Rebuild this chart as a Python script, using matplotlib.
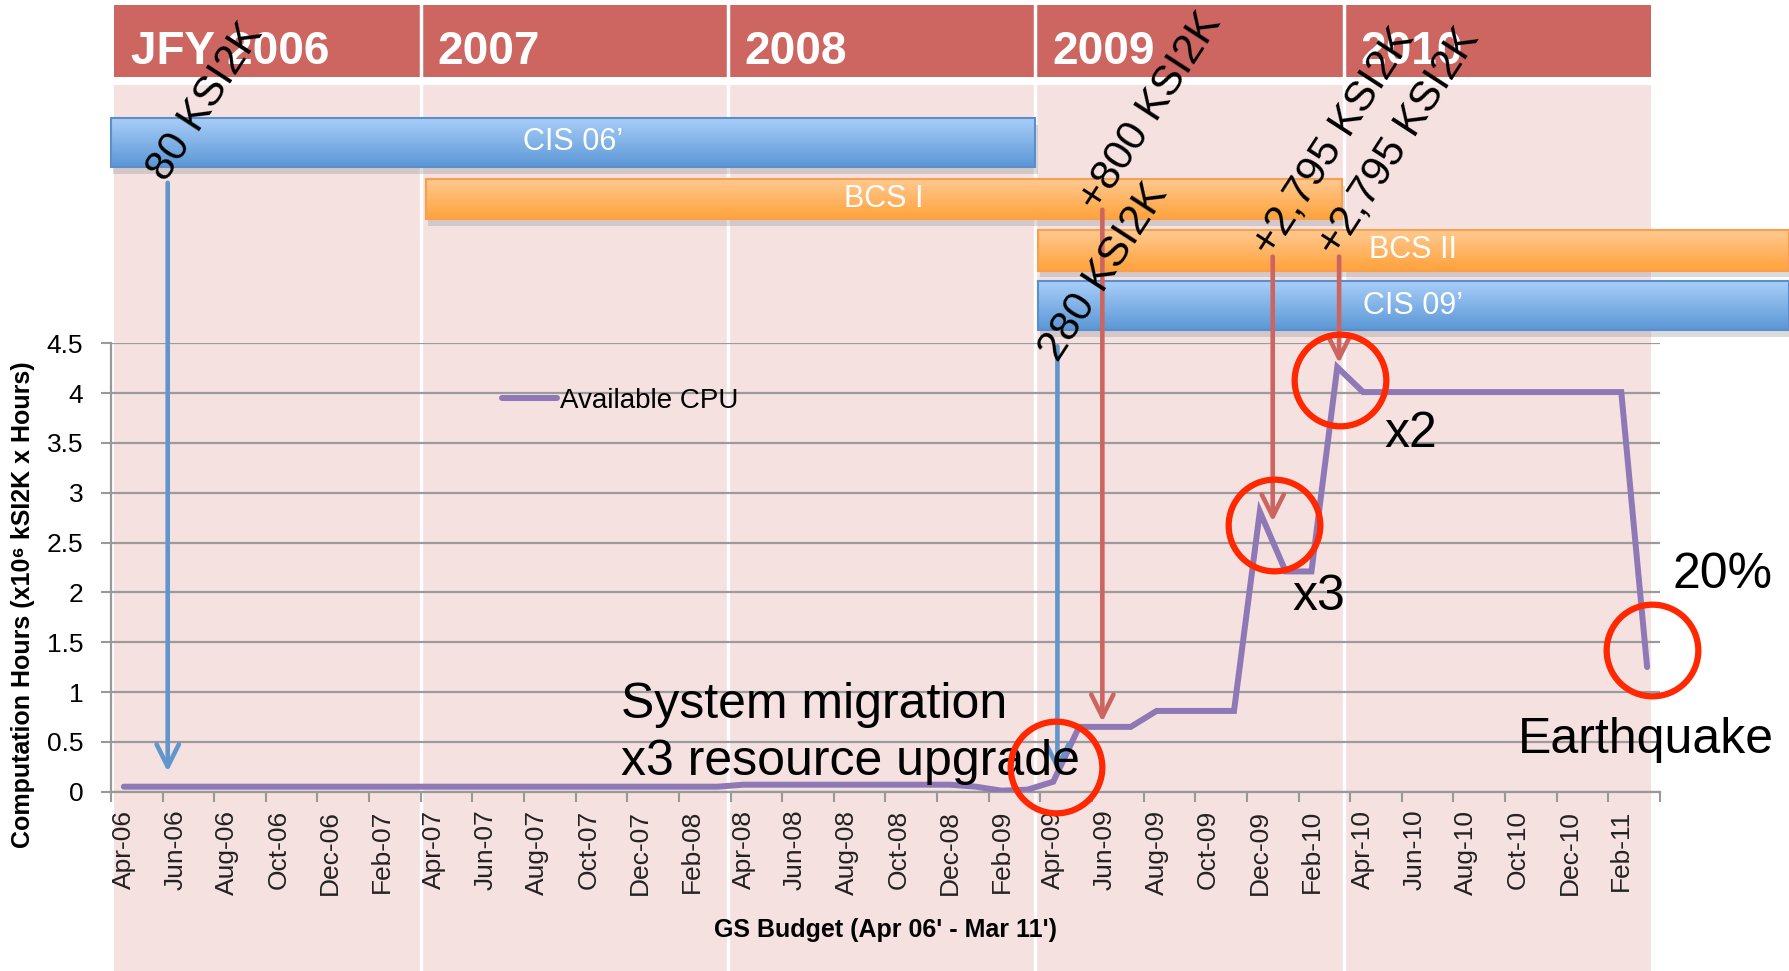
import numpy as np
import matplotlib.pyplot as plt
from matplotlib.patches import Rectangle
from matplotlib.colors import LinearSegmentedColormap

plt.rcParams['font.family'] = ['Liberation Sans', 'DejaVu Sans']

# monthly available CPU, Apr-06 .. Mar-11 (x10^6 kSI2K x hours)
cpu = [0.05, 0.05, 0.05, 0.05, 0.05, 0.05, 0.05, 0.05, 0.05, 0.05, 0.05, 0.05,
       0.05, 0.05, 0.05, 0.05, 0.05, 0.05, 0.05, 0.05, 0.05, 0.05, 0.05, 0.05,
       0.07, 0.07, 0.07, 0.07, 0.07, 0.07, 0.07, 0.07, 0.07, 0.05, 0.01, 0.02,
       0.10, 0.65, 0.65, 0.65, 0.81, 0.81, 0.81, 0.81, 2.81, 2.21, 2.21, 4.26,
       4.01, 4.01, 4.01, 4.01, 4.01, 4.01, 4.01, 4.01, 4.01, 4.01, 4.01, 1.25]

tick_labels = ['Apr-06', 'Jun-06', 'Aug-06', 'Oct-06', 'Dec-06', 'Feb-07',
               'Apr-07', 'Jun-07', 'Aug-07', 'Oct-07', 'Dec-07', 'Feb-08',
               'Apr-08', 'Jun-08', 'Aug-08', 'Oct-08', 'Dec-08', 'Feb-09',
               'Apr-09', 'Jun-09', 'Aug-09', 'Oct-09', 'Dec-09', 'Feb-10',
               'Apr-10', 'Jun-10', 'Aug-10', 'Oct-10', 'Dec-10', 'Feb-11']
y_labels = ['0', '0.5', '1', '1.5', '2', '2.5', '3', '3.5', '4', '4.5']

# fiscal years; header cells are drawn a touch narrower than the axis months
years = ['JFY 2006', '2007', '2008', '2009', '2010']
year_edges = [0.12, 12.0, 23.9, 35.8, 47.75, 59.65]

# systems (start / end month)
sys_names = ['CIS 06\u2019', 'BCS I', 'BCS II', 'CIS 09\u2019']
sys_start = [0, 12.2, 35.9, 35.9]
sys_end = [35.8, 47.7, 65, 65]
sys_kind = ['cis', 'bcs', 'bcs', 'cis']
sys_row = [(6.27, 6.76), (5.75, 6.15), (5.23, 5.64), (4.63, 5.12)]

# upgrade arrows
arr_x = [2.2, 36.66, 38.4, 45.0, 47.57]
arr_top = [6.11, 4.47, 5.84, 5.37, 5.37]
arr_tip = [0.2, 0.2, 0.70, 2.71, 4.30]
arr_kind = ['cis', 'cis', 'bcs', 'bcs', 'bcs']
arr_text = ['80 KSI2K', '280 KSI2K', '+800 KSI2K', '+2,795 KSI2K', '+2,795 KSI2K']
txt_x = [2.13, 36.7, 38.24, 44.94, 47.46]
txt_y = [6.11, 4.30, 5.81, 5.36, 5.36]

# highlight circles
circ_x = [36.6, 45.05, 47.6, 59.7]
circ_y = [0.25, 2.68, 4.13, 1.42]

fig = plt.figure(figsize=(17.89, 9.71), dpi=100)
ax = fig.add_axes([0.062, 0.1847, 0.8659, 0.4618])
ax.patch.set_facecolor('none')

# background bands and header
for i, name in enumerate(years):
    s, e = year_edges[i], year_edges[i + 1]
    ax.add_patch(Rectangle((s, -1.9), e - s, 7.09 + 1.9, facecolor='#F4E1E0',
                           edgecolor='none', zorder=0.1, clip_on=False))
    ax.add_patch(Rectangle((s, 7.17), e - s, 0.72, facecolor='#CD6660',
                           edgecolor='none', zorder=0.1, clip_on=False))
    ax.text(s + 0.65, 7.30, name, color='white', fontsize=33, fontweight='bold',
            ha='left', va='baseline', clip_on=False)
for s in year_edges[1:-1]:
    ax.plot([s, s], [-1.9, 7.95], color='white', lw=2.5, zorder=0.2, clip_on=False)

# system bars
grads = {'cis': ('#A8CEF8', '#5B97D6', '#5A8FCC'), 'bcs': ('#FFC990', '#FFA23C', '#F7A050')}
grad = np.linspace(0, 1, 64).reshape(-1, 1)
for name, s, e, k, (y0, y1) in zip(sys_names, sys_start, sys_end, sys_kind, sys_row):
    top, bot, edge = grads[k]
    ax.add_patch(Rectangle((s + 0.1, y0 - 0.07), e - s, y1 - y0, facecolor='#999999',
                           alpha=0.35, edgecolor='none', zorder=1.5, clip_on=False))
    cmap = LinearSegmentedColormap.from_list(k, [top, bot])
    im = ax.imshow(grad, extent=[s, e, y0, y1], cmap=cmap, aspect='auto',
                   origin='upper', zorder=2)
    im.set_clip_on(False)
    ax.add_patch(Rectangle((s, y0), e - s, y1 - y0, facecolor='none', edgecolor=edge,
                           lw=1.5, zorder=2.1, clip_on=False))
    ax.text((s + e) / 2, (y0 + y1) / 2, name, color='white', fontsize=22,
            ha='center', va='center', zorder=2.2, clip_on=False)

# CPU line
x = np.arange(len(cpu)) + 0.5
ax.plot(x, cpu, color='#8E78B5', lw=4.3, solid_capstyle='round',
        solid_joinstyle='miter', label='Available CPU', zorder=3)

# arrows and rotated labels
arr_colors = {'cis': '#6196CC', 'bcs': '#CC655F'}
for xa, t0, t1, k in zip(arr_x, arr_top, arr_tip, arr_kind):
    ax.annotate('', xy=(xa, t1), xytext=(xa, t0), annotation_clip=False,
                arrowprops=dict(arrowstyle='->,head_length=0.8,head_width=0.4',
                                color=arr_colors[k], lw=3.3, shrinkA=0, shrinkB=0,
                                mutation_scale=20), zorder=4)
for tx, ty, t in zip(txt_x, txt_y, arr_text):
    ax.text(tx, ty, t, fontsize=30.5, rotation=57, rotation_mode='anchor',
            ha='left', va='baseline', zorder=5, clip_on=False)

# notes
ax.text(19.74, 0.737, 'System migration', fontsize=36, ha='left', va='baseline', zorder=5)
ax.text(19.74, 0.17, 'x3 resource upgrade', fontsize=36, ha='left', va='baseline', zorder=5)
ax.text(49.33, 3.46, 'x2', fontsize=36, ha='left', va='baseline', zorder=5)
ax.text(45.77, 1.82, 'x3', fontsize=36, ha='left', va='baseline', zorder=5)
ax.text(60.5, 2.04, '20%', fontsize=36, ha='left', va='baseline', zorder=5, clip_on=False)
ax.text(54.5, 0.39, 'Earthquake', fontsize=36, ha='left', va='baseline', zorder=5, clip_on=False)

ax.plot(circ_x, circ_y, 'o', ms=66, mfc='none', mec='#FF2800', mew=4.5,
        zorder=6, clip_on=False)

# axes styling
ax.set_xlim(0, 60)
ax.set_ylim(0, 4.5)
ax.set_xticks(np.arange(0, 61, 2))
ax.set_xticklabels([])
ax.set_xticks(np.arange(0.5, 60, 2), minor=True)
ax.set_xticklabels(tick_labels, minor=True, rotation=90, fontsize=19, color='#222222')
ax.tick_params(axis='x', which='major', direction='out', length=7, width=1.5, color='#999999')
ax.tick_params(axis='x', which='minor', length=0, pad=13)
ax.set_yticks(np.arange(0, 4.51, 0.5))
ax.set_yticklabels(y_labels, fontsize=19)
ax.tick_params(axis='y', direction='out', length=7, width=1.5, color='#999999', pad=13)
ax.grid(axis='y', color='#9B9B9B', lw=1.6)
ax.set_axisbelow(True)
for side in ['top', 'right']:
    ax.spines[side].set_visible(False)
for side in ['left', 'bottom']:
    ax.spines[side].set_color('#999999')
    ax.spines[side].set_linewidth(1.6)

ax.set_xlabel("GS Budget (Apr 06' - Mar 11')", fontsize=18, fontweight='bold')
ax.xaxis.set_label_coords(0.5, -0.308)
ax.xaxis.label.set_va('center')
ax.set_ylabel('Computation Hours (x10\u2076 kSI2K x Hours)', fontsize=18, fontweight='bold')
ax.yaxis.set_label_coords(-0.0568, 0.416)
ax.yaxis.label.set_va('center')

ax.legend(loc='center left', bbox_to_anchor=(0.2524, 0.871), frameon=False,
          fontsize=20, handlelength=2.0, handletextpad=0.1, borderpad=0,
          borderaxespad=0)

fig.savefig('out.png', dpi=100)
